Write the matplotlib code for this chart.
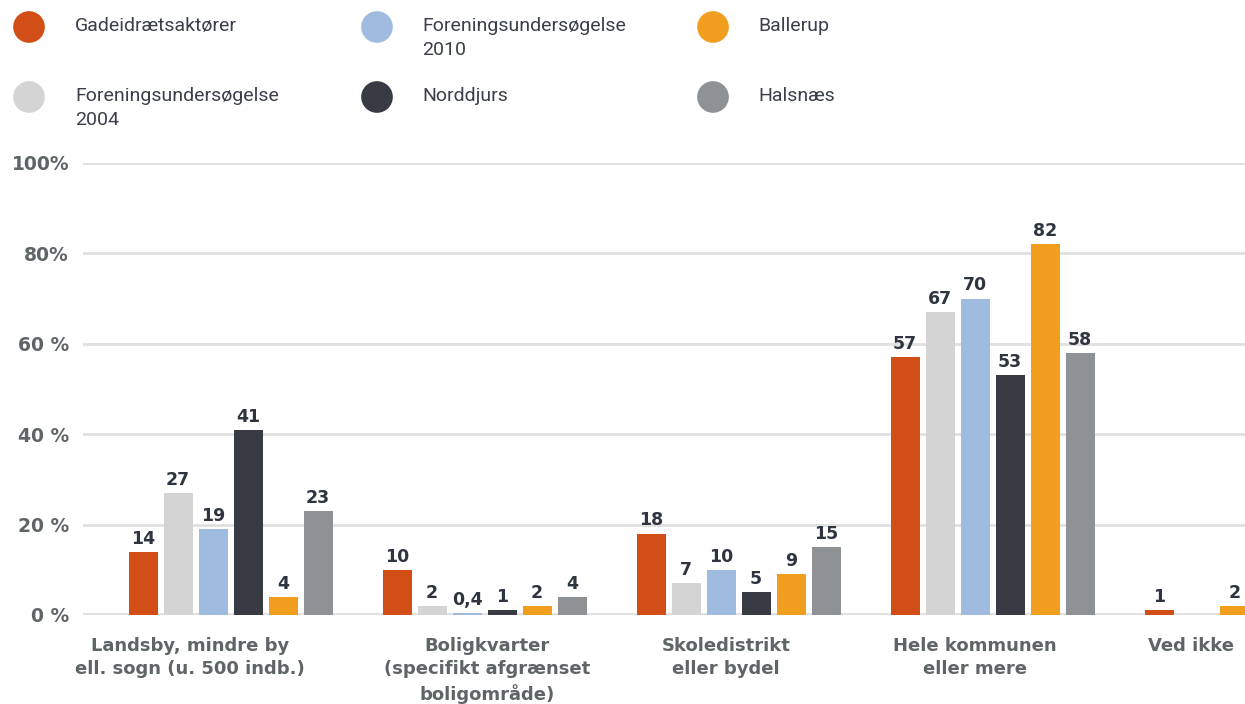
import numpy as np
import matplotlib.pyplot as plt

plt.rcParams["font.family"] = ["DejaVu Sans"]

# data (percent)
categories = ["Landsby, mindre by\nell. sogn (u. 500 indb.)",
              "Boligkvarter\n(specifikt afgrænset\nboligområde)",
              "Skoledistrikt\neller bydel",
              "Hele kommunen\neller mere",
              "Ved ikke"]
series_names = ["Gadeidrætsaktører", "Foreningsundersøgelse\n2004",
                "Foreningsundersøgelse\n2010", "Norddjurs", "Ballerup", "Halsnæs"]
gade = [14, 10, 18, 57, 1]
forening_2004 = [27, 2, 7, 67, None]
forening_2010 = [19, 0.4, 10, 70, None]
norddjurs = [41, 1, 5, 53, None]
ballerup = [4, 2, 9, 82, 2]
halsnaes = [23, 4, 15, 58, None]
yticks = [0, 20, 40, 60, 80, 100]
ytick_labels = ["0 %", "20 %", "40 %", "60 %", "80%", "100%"]

colors = ["#d14f17", "#d4d4d4", "#9fbbe0", "#383b43", "#f19d1e", "#8f9294"]
all_series = [gade, forening_2004, forening_2010, norddjurs, ballerup, halsnaes]

# layout
slot = 0.1378
width = 0.114
label_x = [-0.16, 1.01, 1.95, 2.93, 3.78]
# in "Ved ikke" the Ballerup bar sits closer to the first bar
slot_override = {(4, 4): 2.15}

fig = plt.figure(figsize=(12.45, 7.04), dpi=100)
ax = fig.add_axes([83 / 1245, 89 / 704, 1162 / 1245, 452 / 704])

for s, vals in enumerate(all_series):
    for g, v in enumerate(vals):
        if v is None:
            continue
        pos = slot_override.get((g, s), s)
        x = g + (pos - 2.5) * slot
        ax.bar(x, v, width=width, color=colors[s], zorder=3)
        txt = str(v).replace(".", ",")
        ax.annotate(txt, xy=(x, v), xytext=(0, 3), textcoords="offset points",
                    ha="center", va="bottom", fontsize=12.5, fontweight="bold",
                    color="#2f3441", zorder=4)

ax.set_xlim(-0.581, 3.994)
ax.set_ylim(0, 100)
ax.set_yticks(yticks)
ax.set_yticklabels(ytick_labels, fontsize=13.5, fontweight="bold", color="#5f6566")
ax.tick_params(axis="y", length=0, pad=10)
ax.set_xticks([])
ax.yaxis.grid(True, color="#e0e0e0", linewidth=2.0, zorder=0)
ax.axhline(0, color="#e0e0e0", linewidth=2.8, zorder=1)
for sp in ax.spines.values():
    sp.set_visible(False)

for x, lab in zip(label_x, categories):
    ax.annotate(lab, xy=(x, 0), xycoords=("data", "axes fraction"),
                xytext=(0, -15.5), textcoords="offset points", ha="center", va="top",
                fontsize=13, fontweight="bold", color="#5f6566", linespacing=1.38)

# legend drawn in pixel coordinates
leg = fig.add_axes([0, 0, 1, 1], zorder=-1)
leg.set_xlim(0, 1245)
leg.set_ylim(704, 0)
leg.axis("off")
circle_x = [29, 377, 713]
text_x = [75, 422, 758]
row_y = [27, 97]
order = [(0, 0), (1, 0), (0, 1), (1, 1), (0, 2), (1, 2)]
for (r, c), name, col in zip(order, series_names, colors):
    leg.scatter(circle_x[c], row_y[r], s=520, color=col, edgecolor="none")
    leg.text(text_x[c], row_y[r] - 10, name, ha="left", va="top", fontsize=14,
             family="Roboto", color="#3a3f4a", linespacing=1.4)

fig.savefig("out.png", dpi=100)
